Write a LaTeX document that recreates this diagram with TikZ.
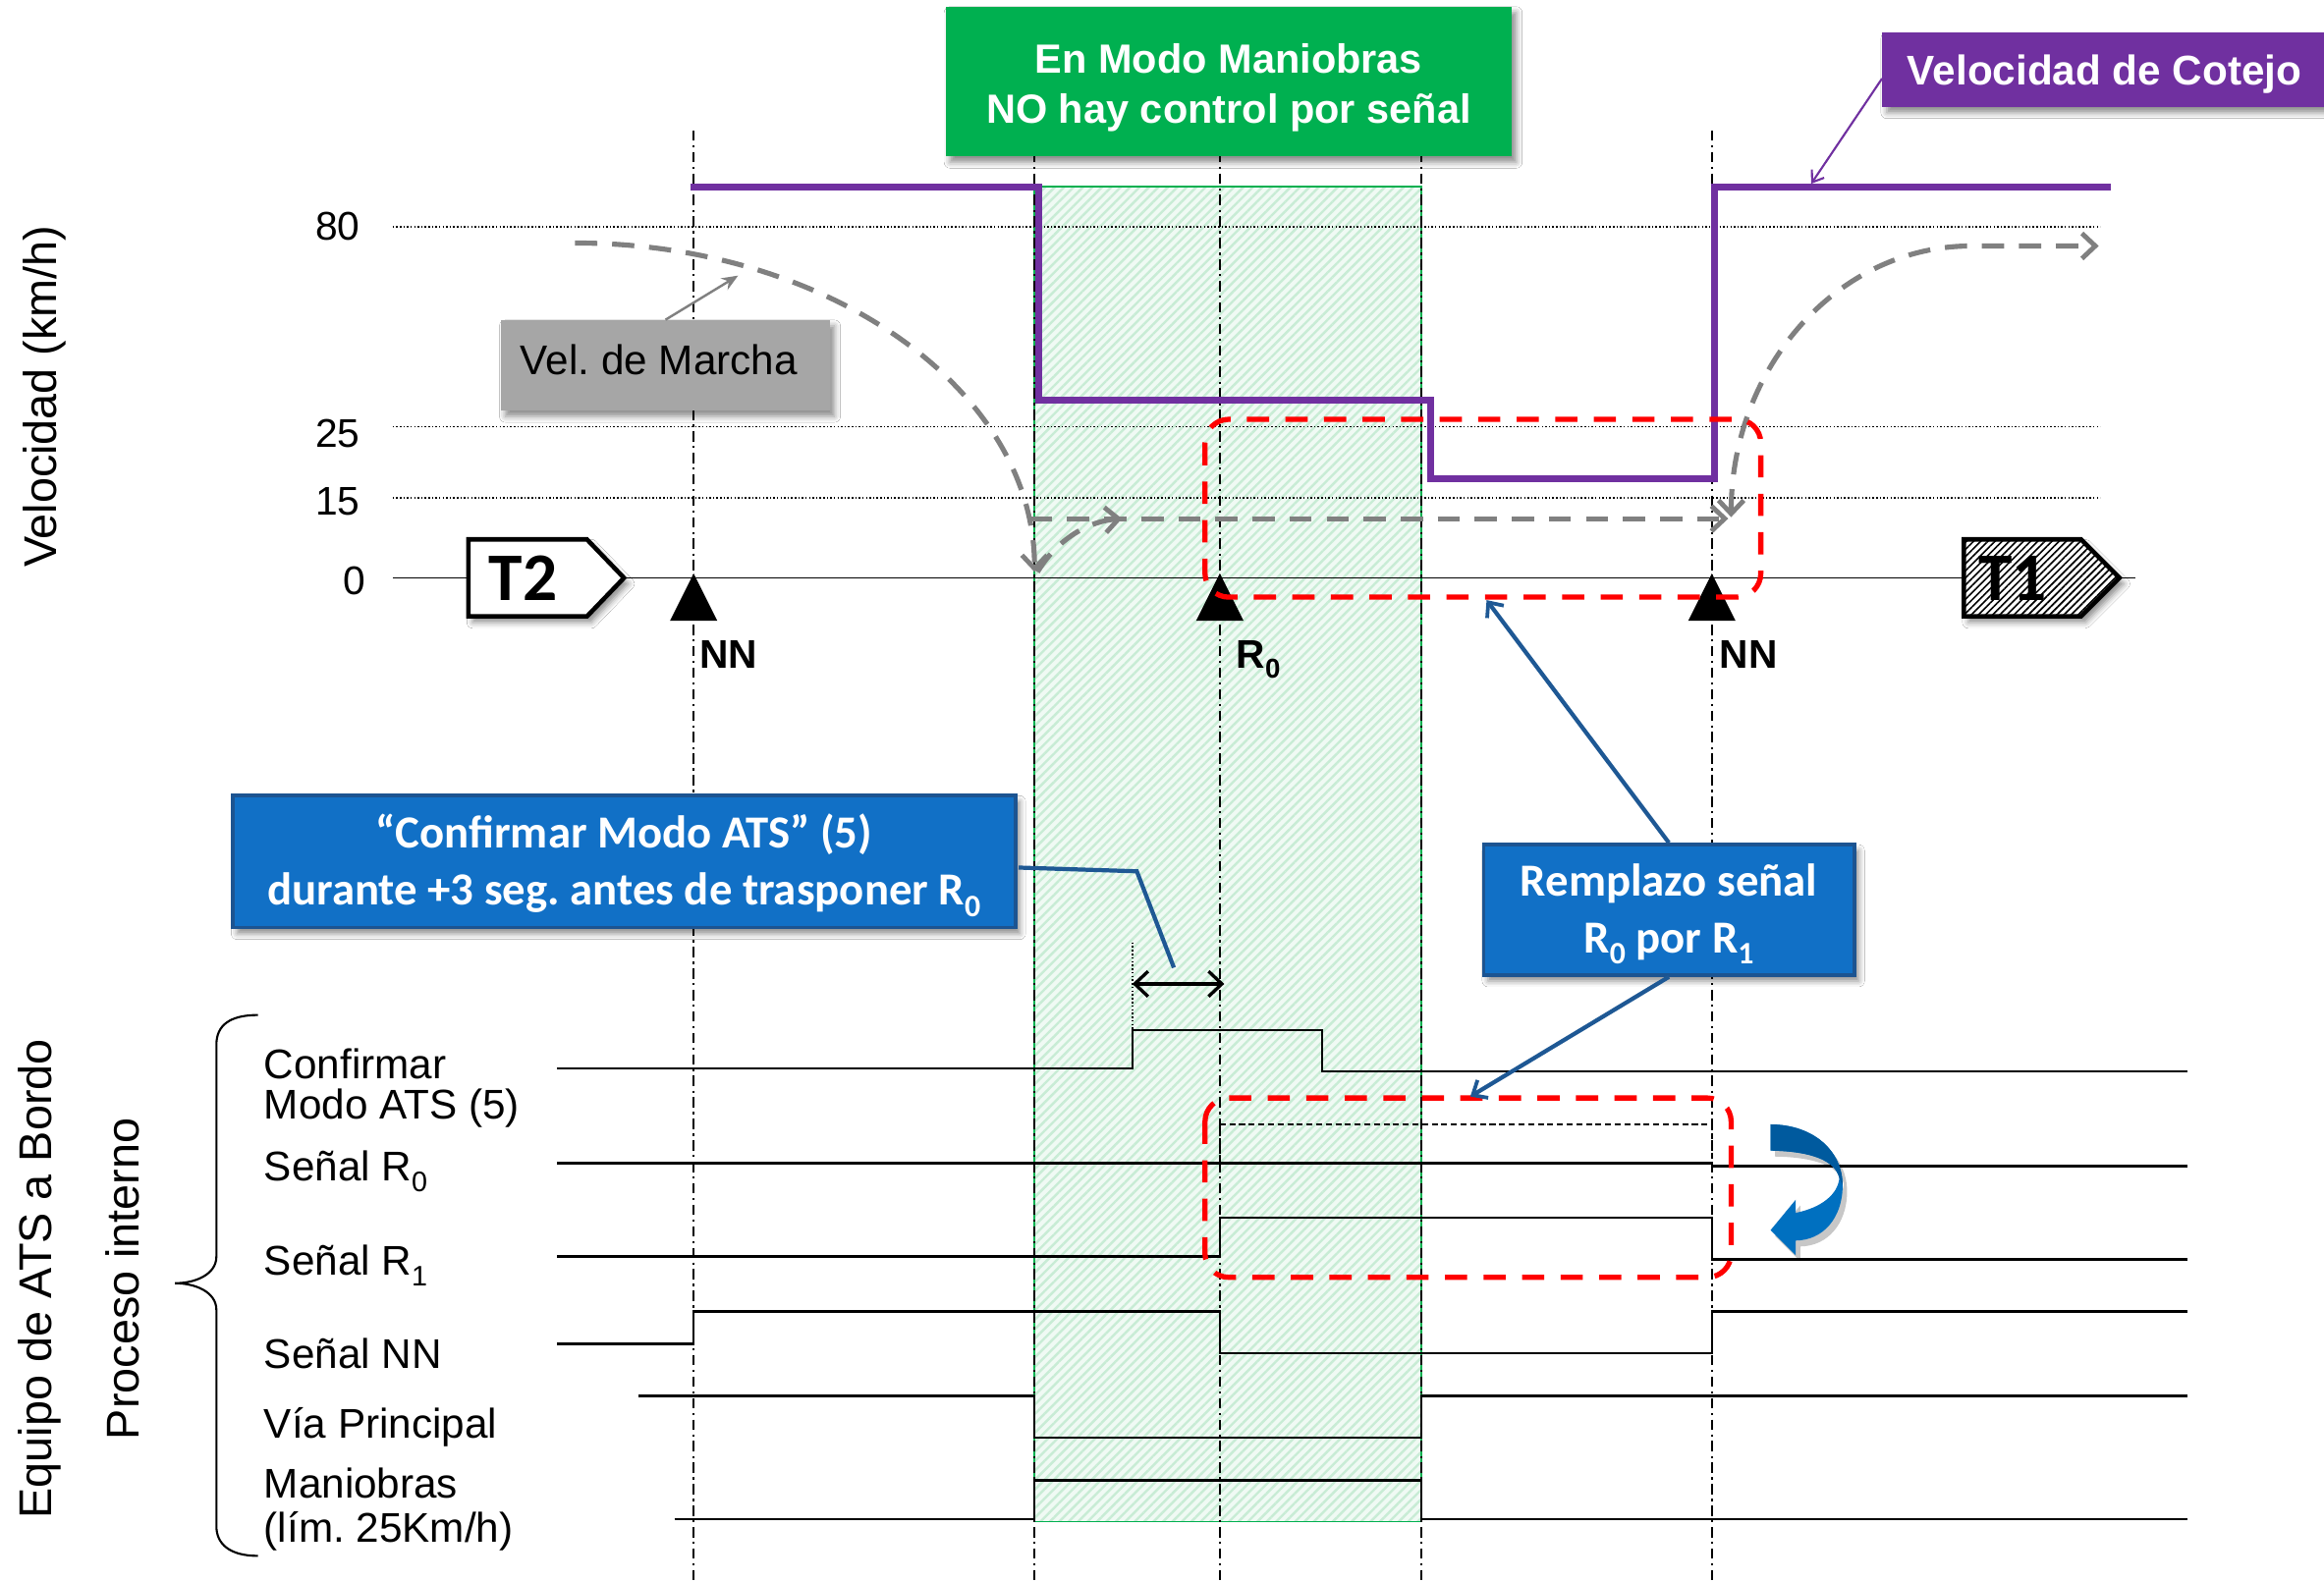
\documentclass[tikz,border=0pt]{standalone}
\usepackage{graphicx}
\usepackage{fontspec}
\setmainfont{Liberation Sans}
\newfontfamily\calfont{Carlito}
\usetikzlibrary{arrows.meta,patterns.meta,shadows.blur,calc}

\definecolor{modegreen}{RGB}{0,176,80}
\definecolor{cotejopurple}{RGB}{112,48,160}
\definecolor{marchagrey}{RGB}{128,128,128}
\definecolor{labelgrey}{RGB}{166,166,166}
\definecolor{notefill}{RGB}{17,112,198}
\definecolor{noteedge}{RGB}{28,84,145}
\definecolor{noteline}{RGB}{30,88,148}
\definecolor{zonebg}{RGB}{240,250,244}
\definecolor{zoneline}{RGB}{200,236,213}
\definecolor{turndark}{RGB}{0,90,158}
\definecolor{turnlight}{RGB}{0,112,192}

\newcommand\numfont{\fontsize{27}{30}\selectfont}
\newcommand\lblfont{\fontsize{28}{30}\selectfont}
\newcommand\axisfont{\fontsize{31}{34}\selectfont}
\newcommand\nnfont{\bfseries\fontsize{27}{30}\selectfont}
\newcommand\headfont{\bfseries\fontsize{27.5}{30}\selectfont}
\newcommand\calbox{\calfont\bfseries\fontsize{31}{34}\selectfont}
\newcommand\trainfont{\calfont\bfseries\fontsize{46}{46}\selectfont}
\newcommand\subidx[1]{\raisebox{-0.25em}{\scalebox{0.68}{#1}}}

\begin{document}
\begin{tikzpicture}[x=1pt,y=-1pt,
  every node/.style={inner sep=0pt},
  guide/.style={line width=1.3pt, dash pattern=on 7pt off 3pt on 1.5pt off 3pt},
  gridline/.style={line width=1pt, dash pattern=on 1pt off 1.4pt},
  sig/.style={line width=1.5pt, line join=miter},
  cotejo/.style={cotejopurple, line width=4.5pt, line join=miter},
  marcha/.style={marchagrey, line width=3.4pt, dash pattern=on 15pt off 10pt},
  marchatip/.tip={Straight Barb[length=9pt,width=17pt,line width=3.2pt]},
  zone/.style={red, line width=3.5pt, dash pattern=on 15pt off 11pt, rounded corners=16pt},
  softshadow/.style={blur shadow={shadow xshift=3pt, shadow yshift=-4pt, shadow blur radius=4pt, shadow opacity=45}},
  panel/.style={softshadow},
  notebox/.style={panel, fill=notefill, draw=noteedge, line width=2.5pt},
  notetext/.style={anchor=base, text=white, font=\calbox},
  noteconn/.style={noteline, line width=2.8pt},
  notetip/.tip={Straight Barb[length=8pt,width=14pt,line width=2.5pt]},
  sigtext/.style={anchor=base west, font=\lblfont},
  train/.style={line width=3pt, line join=miter, softshadow}
]
\useasboundingbox (0,0) rectangle (1568,1067);
\fill[white] (0,0) rectangle (1568,1067);

% ---- shunting-mode zone (hatched band) ----
\fill[zonebg] (698,126) rectangle (959,1027);
\path[pattern={Lines[angle=45,distance=4.5pt,line width=1.6pt]}, pattern color=zoneline] (698,126) rectangle (959,1027);
\draw[modegreen, line width=1pt] (698,126) rectangle (959,1027);

% ---- speed grid and track axis ----
\draw[gridline] (265,153) -- (1417,153);
\draw[gridline] (265,288) -- (1417,288);
\draw[gridline] (265,336) -- (1417,336);
\draw[line width=1.3pt] (265,390) -- (1441,390);

\node[anchor=base east, font=\numfont] (v80) at (243,162) {80};
\node[anchor=base east, font=\numfont] (v25) at (243,302) {25};
\node[anchor=base east, font=\numfont] (v15) at (243,347.5) {15};
\node[anchor=base east, font=\numfont] (v0)  at (247,401) {0};
\node[rotate=90, font=\axisfont] (vellabel) at (30,267.5) {Velocidad (km/h)};

% ---- event guides ----
\foreach \gx in {468,698,823,959,1155}
  \draw[guide] (\gx,88) -- (\gx,1067);

% ---- internal signals ----
\draw[sig] (376,721) -- (764,721) -- (764,695) -- (892,695) -- (892,723) -- (1476,723);
\draw[line width=1pt, dash pattern=on 1pt off 1.5pt] (764,636) -- (764,695);
\draw[sig] (376,785) -- (1155,785) -- (1155,787) -- (1476,787);
\draw[line width=1.2pt, dash pattern=on 4pt off 2.5pt] (823,785) -- (823,759) -- (1155,759) -- (1155,785);
\draw[sig] (376,848) -- (823,848) -- (823,822) -- (1155,822) -- (1155,850) -- (1476,850);
\draw[sig] (376,907) -- (468,907) -- (468,885) -- (823,885) -- (823,913) -- (1155,913) -- (1155,885) -- (1476,885);
\draw[sig] (431,942) -- (698,942) -- (698,970) -- (959,970) -- (959,942) -- (1476,942);
\draw[sig] (455,1025) -- (698,1025) -- (698,999) -- (959,999) -- (959,1025) -- (1476,1025);

\coordinate (wstart) at (764,664);
\coordinate (wend) at (826,664);
\draw[line width=2.2pt, {Straight Barb[length=9pt,width=17pt]}-{Straight Barb[length=9pt,width=17pt]}] (wstart) -- (wend);

% ---- check speed (purple) ----
\draw[cotejo] (466,126) -- (701,126) -- (701,270) -- (965,270) -- (965,323) -- (1157,323) -- (1157,126) -- (1424,126);

% ---- running speed (grey dashed) ----
\draw[marcha, -{marchatip}] (388,164) .. controls (559,164) and (698,263) .. (698,386);
\draw[marcha, -{marchatip}] (700,386) .. controls (712,366) and (732,352) .. (757,350);
\draw[marcha, -{marchatip}] (695,350) -- (1166,350);
\draw[marcha, {marchatip}-{marchatip}] (1168,349) .. controls (1168,248) and (1240,166) .. (1330,166) -- (1416,166);

% ---- signal posts ----
\fill (468,387) -- (452,419) -- (484,419) -- cycle;
\fill (823,387) -- (807,419) -- (839,419) -- cycle;
\fill (1155,387) -- (1139,419) -- (1171,419) -- cycle;
\node[anchor=base west, font=\nnfont] (nnleft) at (472,451) {NN};
\node[anchor=base west, font=\nnfont] (rzero) at (834,451) {R\subidx{0}};
\node[anchor=base west, font=\nnfont] (nnright) at (1160,451) {NN};

% ---- replaced-signal zones ----
\draw[zone] (813,283) rectangle (1188,403);
\draw[zone] (813,741) rectangle (1168,862);

% ---- trains ----
\fill[white, train] (316,364) -- (396,364) -- (421,390) -- (396,416) -- (316,416) -- cycle;
\draw[line width=3pt, line join=miter] (316,364) -- (396,364) -- (421,390) -- (396,416) -- (316,416) -- cycle;
\node[anchor=base, font=\trainfont] (T2) at (353,405) {T2};
\fill[white, train] (1325,364) -- (1404,364) -- (1430,390) -- (1404,416) -- (1325,416) -- cycle;
\path[pattern={Lines[angle=45,distance=3.4pt,line width=1.1pt]}, pattern color=black] (1325,364) -- (1404,364) -- (1430,390) -- (1404,416) -- (1325,416) -- cycle;
\draw[line width=3pt, line join=miter] (1325,364) -- (1404,364) -- (1430,390) -- (1404,416) -- (1325,416) -- cycle;
\node[anchor=base, font=\trainfont] (T1) at (1358,405) {T1};

% ---- header boxes ----
\node[panel, fill=modegreen, minimum width=382pt, minimum height=101pt] (modebox) at (829,55) {};
\node[anchor=base, text=white, font=\headfont] (modeline1) at (829,49.5) {En Modo Maniobras};
\node[anchor=base, text=white, font=\headfont] (modeline2) at (829,83.5) {NO hay control por señal};

\node[panel, fill=cotejopurple, minimum width=312pt, minimum height=50pt] (cotejobox) at (1426,47) {};
\node[anchor=base, text=white, font=\bfseries\fontsize{28}{30}\selectfont] (cotejotext) at (1420,57.5) {Velocidad de Cotejo};
\coordinate (cotejotip) at (1222,124);
\draw[cotejopurple, line width=1.4pt, -{Straight Barb[length=7pt,width=10pt]}] ($(cotejobox.west)+(0,6)$) -- (cotejotip);

\node[panel, fill=labelgrey, minimum width=222pt, minimum height=61pt] (marchabox) at (449,246.5) {};
\node[anchor=base west, font=\lblfont] (marchatext) at (351,253) {Vel.\ de Marcha};
\coordinate (marchatip) at (498,186);
\draw[marchagrey, line width=1.6pt, -{Stealth[length=11pt,width=9pt]}] (marchabox.north) -- (marchatip);

% ---- note boxes ----
\node[notebox, minimum width=528pt, minimum height=89pt] (confbox) at (421,581.5) {};
\node[notetext] (confline1) at (421,572.3) {“Confirmar Modo ATS” (5)};
\node[notetext] (confline2) at (421,611) {durante +3 seg.\ antes de trasponer R\subidx{0}};
\coordinate (confbend) at (767,588);
\coordinate (confend) at (792,653);
\draw[noteconn, line join=miter] ($(confbox.east)+(1,4)$) -- (confbend) -- (confend);

\node[notebox, minimum width=250pt, minimum height=88pt] (replbox) at (1126,614) {};
\node[notetext] (replline1) at (1126,604.6) {Remplazo señal};
\node[notetext] (replline2) at (1126,643) {R\subidx{0} por R\subidx{1}};
\coordinate (repltop) at (1003,405);
\coordinate (replbottom) at (992,740);
\draw[noteconn, -{notetip}] (replbox.north) -- (repltop);
\draw[noteconn, -{notetip}] (replbox.south) -- (replbottom);

% ---- swap arrow ----
\fill[black, opacity=0.22] (1197.6,762.8) .. controls (1227,763) and (1246.2,781) .. (1246.2,804) .. controls (1246.2,826) and (1233,841) .. (1214.6,841.2) -- (1214.6,851.2) -- (1197.6,834.2) -- (1214.6,813.6) -- (1214.6,822.5) .. controls (1232,819) and (1243,810) .. (1244,799) .. controls (1241,787) and (1225,781) .. (1197.6,780.5) -- cycle;
\fill[turnlight] (1194.6,758.8) .. controls (1224,759) and (1243.2,777) .. (1243.2,800) .. controls (1243.2,822) and (1230,837) .. (1211.6,837.2) -- (1211.6,847.2) -- (1194.6,830.2) -- (1211.6,809.6) -- (1211.6,818.5) .. controls (1229,815) and (1240,806) .. (1241,795) .. controls (1238,783) and (1222,777) .. (1194.6,776.5) -- cycle;
\fill[turndark] (1194.6,758.8) .. controls (1224,759) and (1243.2,777) .. (1243.2,800) -- (1241,795) .. controls (1238,783) and (1222,777) .. (1194.6,776.5) -- cycle;

% ---- on-board equipment labels ----
\draw[line width=1.4pt] (174,685) .. controls (155,685) and (146,692) .. (146,705) -- (146,848) .. controls (146,860) and (132,866) .. (118,866) .. controls (132,866) and (146,872) .. (146,884) -- (146,1030) .. controls (146,1042) and (155,1050) .. (174,1050);
\node[rotate=90, font=\axisfont] (equipolabel) at (27,863) {Equipo de ATS a Bordo};
\node[rotate=90, font=\axisfont] (procesolabel) at (83,863) {Proceso interno};

\node[sigtext] (sconf1) at (178,728) {Confirmar};
\node[sigtext] (sconf2) at (178,755.3) {Modo ATS (5)};
\node[sigtext] (sr0) at (178,797) {Señal R\subidx{0}};
\node[sigtext] (sr1) at (178,860.5) {Señal R\subidx{1}};
\node[sigtext] (snn) at (178,923.8) {Señal NN};
\node[sigtext] (svia) at (178,970.8) {Vía Principal};
\node[sigtext] (sman1) at (178,1011.3) {Maniobras};
\node[sigtext] (sman2) at (178,1040.5) {(lím.\ 25Km/h)};
\end{tikzpicture}
\end{document}
